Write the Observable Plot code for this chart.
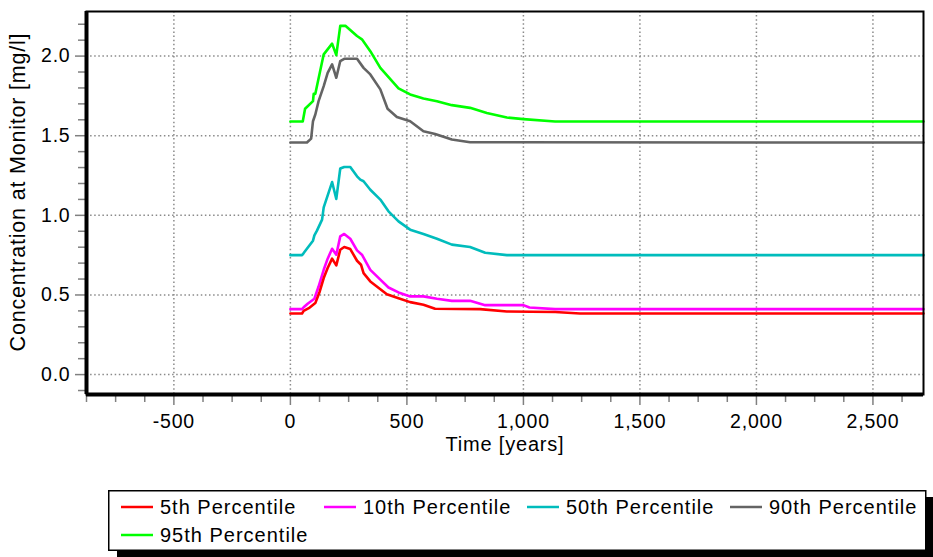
<!DOCTYPE html>
<html>
<head>
<meta charset="utf-8">
<script src="https://cdn.jsdelivr.net/npm/d3@7"></script>
<script src="https://cdn.jsdelivr.net/npm/@observablehq/plot@0.6"></script>
<style>
  html, body { margin: 0; padding: 0; background: #fff; overflow: hidden; }
  #wrap { width: 933px; height: 557px; overflow: hidden; font-family: "Liberation Sans", Arial, sans-serif; }
  #chart svg, #legend svg { display: block; }
</style>
</head>
<body>
<div id="wrap">
  <div id="chart"></div>
  <div id="legend"></div>
</div>
<script>
// ---- data ----
const seriesNames = ["5th Percentile", "10th Percentile", "50th Percentile", "90th Percentile", "95th Percentile"];
const seriesColors = ["#ff0000", "#ff00ff", "#00bcbc", "#646464", "#00ff00"];

const p5Time = [0, 50, 57, 79, 107, 126, 143, 160, 179, 197, 214, 231, 257, 286, 303, 314, 343, 414, 464, 514, 571, 621, 814, 929, 1136, 1243, 2717];
const p5Value = [0.384, 0.384, 0.40, 0.417, 0.449, 0.522, 0.606, 0.669, 0.728, 0.686, 0.784, 0.801, 0.788, 0.715, 0.690, 0.637, 0.585, 0.505, 0.480, 0.455, 0.438, 0.413, 0.411, 0.396, 0.393, 0.384, 0.384];

const p10Time = [0, 50, 57, 74, 103, 121, 143, 160, 179, 197, 214, 231, 257, 286, 307, 343, 386, 421, 464, 514, 571, 629, 693, 771, 836, 1000, 1026, 1136, 2717];
const p10Value = [0.411, 0.411, 0.423, 0.445, 0.476, 0.553, 0.658, 0.728, 0.790, 0.753, 0.868, 0.883, 0.853, 0.780, 0.753, 0.658, 0.596, 0.547, 0.516, 0.491, 0.491, 0.476, 0.463, 0.463, 0.436, 0.436, 0.421, 0.411, 0.411];

const p50Time = [0, 50, 57, 97, 103, 114, 136, 143, 179, 197, 214, 231, 257, 286, 300, 314, 343, 386, 421, 464, 514, 571, 629, 693, 771, 836, 929, 2717];
const p50Value = [0.75, 0.75, 0.763, 0.841, 0.874, 0.904, 0.973, 1.050, 1.209, 1.103, 1.294, 1.304, 1.304, 1.245, 1.224, 1.214, 1.161, 1.099, 1.025, 0.962, 0.910, 0.883, 0.853, 0.816, 0.801, 0.765, 0.75, 0.75];

const p90Time = [0, 71, 89, 97, 107, 121, 143, 160, 179, 197, 214, 231, 286, 314, 343, 386, 417, 457, 514, 571, 621, 693, 771, 2717];
const p90Value = [1.457, 1.457, 1.482, 1.591, 1.633, 1.717, 1.811, 1.895, 1.948, 1.864, 1.969, 1.983, 1.983, 1.926, 1.885, 1.791, 1.669, 1.618, 1.591, 1.528, 1.511, 1.476, 1.459, 1.457];

const p95Time = [0, 53, 63, 97, 100, 107, 143, 179, 197, 214, 236, 286, 307, 343, 386, 464, 514, 571, 629, 693, 771, 843, 929, 1000, 1136, 2717];
const p95Value = [1.589, 1.589, 1.669, 1.717, 1.763, 1.763, 2.011, 2.078, 2.006, 2.19, 2.19, 2.126, 2.105, 2.031, 1.926, 1.797, 1.759, 1.734, 1.717, 1.692, 1.675, 1.643, 1.614, 1.604, 1.589, 1.589];

const xMajorTicks = [-500, 0, 500, 1000, 1500, 2000, 2500];
const xMinorTicks = [-875, -750, -625, -375, -250, -125, 125, 250, 375, 625, 750, 875, 1125, 1250, 1375, 1625, 1750, 1875, 2125, 2250, 2375, 2625];
const yMajorTicks = [0, 0.5, 1.0, 1.5, 2.0];
const yMinorTicks = [-0.1, 0.1, 0.2, 0.3, 0.4, 0.6, 0.7, 0.8, 0.9, 1.1, 1.2, 1.3, 1.4, 1.6, 1.7, 1.8, 1.9, 2.1, 2.2];
const xLabel = "Time [years]";
const yLabel = "Concentration at Monitor [mg/l]";
const xDomain = [-875, 2717];
const yDomain = [-0.125, 2.28];

// ---- build table ----
const times = [p5Time, p10Time, p50Time, p90Time, p95Time];
const values = [p5Value, p10Value, p50Value, p90Value, p95Value];
const rows = [];
seriesNames.forEach((name, i) => {
  times[i].forEach((t, j) => rows.push({series: name, time: t, value: values[i][j]}));
});
const drawOrder = [4, 3, 2, 1, 0];

const tickGray = "#808080";
const gridStyle = {stroke: "#8a8a8a", strokeOpacity: 1, strokeWidth: 1.5, strokeDasharray: "1.5,2.6"};
const fontFamily = "'Liberation Sans', Arial, sans-serif";

const chart = Plot.plot({
  width: 933,
  height: 475,
  marginLeft: 86,
  marginRight: 10,
  marginTop: 11,
  marginBottom: 81,
  style: {fontFamily, fontSize: "19.5px", letterSpacing: "0.8px", background: "white", color: "black"},
  x: {domain: xDomain},
  y: {domain: yDomain},
  marks: [
    Plot.gridX(xMajorTicks, gridStyle),
    Plot.gridY(yMajorTicks, gridStyle),
    Plot.axisX(xMinorTicks, {tickSize: 8, stroke: tickGray, strokeWidth: 1.5, tickFormat: () => "", label: null}),
    Plot.axisX(xMajorTicks, {tickSize: 11, tickPadding: 9, stroke: tickGray, strokeWidth: 1.5, fill: "black",
      tickFormat: d => d.toLocaleString("en-US"), label: null}),
    Plot.axisY(yMinorTicks, {tickSize: 8, stroke: tickGray, strokeWidth: 1.5, tickFormat: () => "", label: null}),
    Plot.axisY(yMajorTicks, {tickSize: 11, tickPadding: 5, stroke: tickGray, strokeWidth: 1.5, fill: "black",
      tickFormat: d3.format(".1f"), label: null}),
    ...drawOrder.map(i => Plot.line(rows.filter(r => r.series === seriesNames[i]), {
      x: "time", y: "value", stroke: seriesColors[i], strokeWidth: 2.6
    })),
    Plot.frame({stroke: "black", strokeWidth: 2}),
    Plot.ruleX([xDomain[0]], {stroke: "black", strokeWidth: 4}),
    Plot.ruleY([yDomain[0]], {stroke: "black", strokeWidth: 4}),
    Plot.text([xLabel], {frameAnchor: "bottom", dy: 56, fontSize: 20, fill: "black"}),
    Plot.text([yLabel], {frameAnchor: "left", textAnchor: "middle", rotate: -90, dx: -68, dy: -11, fontSize: 21.5, fill: "black"})
  ]
});
document.getElementById("chart").appendChild(chart);

// ---- legend (separate svg below the chart) ----
const lg = d3.select("#legend").append("svg")
  .attr("width", 933).attr("height", 82)
  .style("font-family", fontFamily).style("font-size", "20px").style("letter-spacing", "1px");
// drop shadow drawn as two thick strokes (bottom and right)
lg.append("path").attr("d", "M117,78.5 H929.5 V22").attr("fill", "none")
  .attr("stroke", "#000").attr("stroke-width", 7);
lg.append("rect").attr("x", 108.75).attr("y", 15.75).attr("width", 817).attr("height", 59.5)
  .attr("fill", "#fff").attr("stroke", "#000").attr("stroke-width", 1.5);
const colW = 203, rowH = 28, x0 = 121, y0 = 32;
const items = lg.selectAll("g.item").data(seriesNames).join("g")
  .attr("class", "item")
  .attr("transform", (d, i) => `translate(${x0 + (i % 4) * colW},${y0 + Math.floor(i / 4) * rowH})`);
items.append("line").attr("x1", 0).attr("x2", 32).attr("y1", 0).attr("y2", 0)
  .attr("stroke", (d, i) => seriesColors[i]).attr("stroke-width", 2.5);
items.append("text").attr("x", 39).attr("y", 0).attr("dy", "0.35em").attr("fill", "#000").text(d => d);
</script>
</body>
</html>
